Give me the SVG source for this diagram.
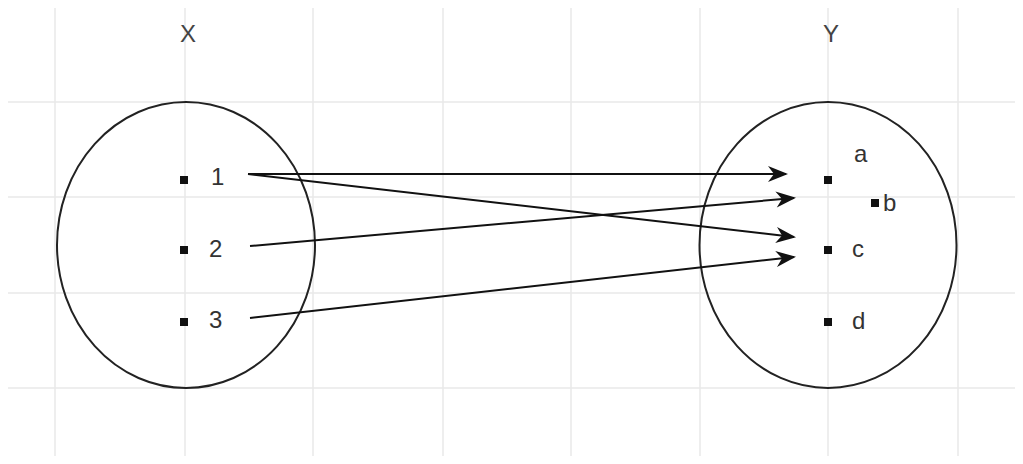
<svg xmlns="http://www.w3.org/2000/svg" width="1023" height="464" viewBox="0 0 1023 464">
<defs>
<style>
.grid line{stroke:#e8e8e8;stroke-width:1.5}
.set{fill:none;stroke:#222;stroke-width:2}
.dot{fill:#111}
.lbl{font-family:"Liberation Sans",Arial,sans-serif;font-size:24px;fill:#333}
.title{font-family:"Liberation Sans",Arial,sans-serif;font-size:24px;fill:#444;text-anchor:middle}
.conn{stroke:#111;stroke-width:2;fill:none;marker-end:url(#arr)}
</style>
<marker id="arr" markerUnits="userSpaceOnUse" markerWidth="40" markerHeight="40" refX="20" refY="20" orient="auto" overflow="visible">
<path d="M2,12 L22,20 L2,28 L8,20 Z" fill="#111"/>
</marker>
</defs>
<rect width="1023" height="464" fill="#fff"/>
<g class="grid">
<line x1="55" y1="8" x2="55" y2="456"/>
<line x1="185" y1="8" x2="185" y2="456"/>
<line x1="313" y1="8" x2="313" y2="456"/>
<line x1="443" y1="8" x2="443" y2="456"/>
<line x1="571" y1="8" x2="571" y2="456"/>
<line x1="700" y1="8" x2="700" y2="456"/>
<line x1="828" y1="8" x2="828" y2="456"/>
<line x1="958" y1="8" x2="958" y2="456"/>
<line x1="8" y1="102" x2="1015" y2="102"/>
<line x1="8" y1="197" x2="1015" y2="197"/>
<line x1="8" y1="293" x2="1015" y2="293"/>
<line x1="8" y1="388" x2="1015" y2="388"/>
</g>
<g id="setX">
<ellipse class="set" cx="186" cy="245" rx="129" ry="143"/>
<text class="title" x="188" y="42">X</text>
</g>
<g id="setY">
<ellipse class="set" cx="828" cy="245" rx="128.5" ry="143"/>
<text class="title" x="831" y="42">Y</text>
</g>
<g id="x1"><rect class="dot" x="180" y="176" width="8" height="8"/><text class="lbl" x="211" y="185">1</text></g>
<g id="x2"><rect class="dot" x="180" y="246" width="8" height="8"/><text class="lbl" x="209" y="257">2</text></g>
<g id="x3"><rect class="dot" x="180" y="318" width="8" height="8"/><text class="lbl" x="209" y="328">3</text></g>
<g id="ya"><rect class="dot" x="824" y="176" width="8" height="8"/><text class="lbl" x="854" y="162">a</text></g>
<g id="yb"><rect class="dot" x="871" y="199" width="8" height="8"/><text class="lbl" x="883" y="211">b</text></g>
<g id="yc"><rect class="dot" x="824" y="246" width="8" height="8"/><text class="lbl" x="852" y="257">c</text></g>
<g id="yd"><rect class="dot" x="824" y="318" width="8" height="8"/><text class="lbl" x="852" y="329">d</text></g>
<g id="connectors">
<line class="conn" x1="248" y1="174" x2="786" y2="174"/>
<line class="conn" x1="248" y1="174" x2="794" y2="237"/>
<line class="conn" x1="250" y1="246" x2="794" y2="198"/>
<line class="conn" x1="250" y1="318" x2="794" y2="257"/>
</g>
</svg>
